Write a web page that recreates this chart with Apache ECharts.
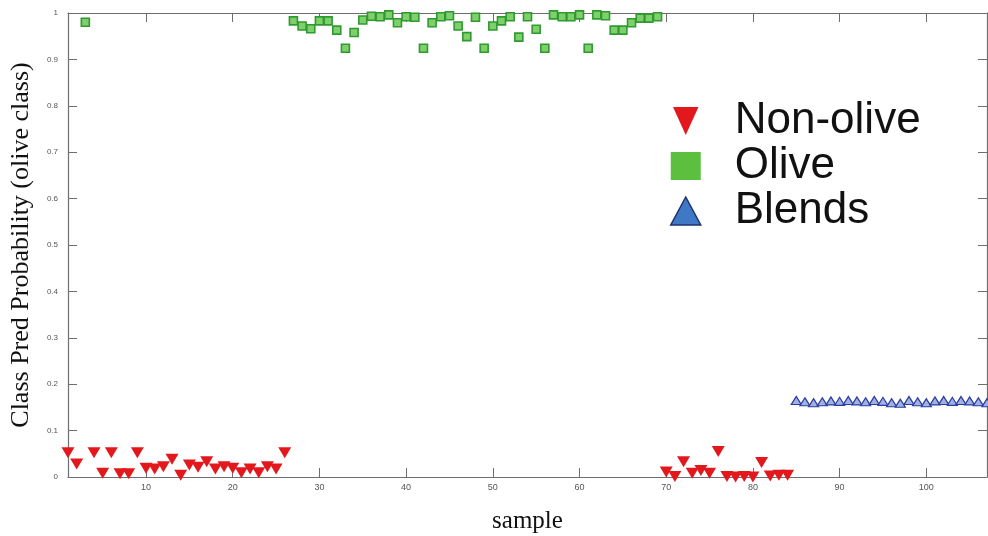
<!DOCTYPE html>
<html>
<head>
<meta charset="utf-8">
<script src="https://cdn.jsdelivr.net/npm/echarts@6/dist/echarts.min.js"></script>
<style>
  html, body { margin: 0; padding: 0; background: #fff; }
  #chart { width: 988px; height: 536px; }
</style>
</head>
<body>
<div id="chart"></div>
<script>
// Sample indices and predicted probability of the olive class
const nonOliveSamples = [1, 2, 4, 5, 6, 7, 8, 9, 10, 11, 12, 13, 14, 15, 16, 17, 18, 19, 20, 21, 22, 23, 24, 25, 26,
  70, 71, 72, 73, 74, 75, 76, 77, 78, 79, 80, 81, 82, 83, 84];
const nonOliveProb = [0.052, 0.028, 0.052, 0.008, 0.052, 0.007, 0.007, 0.052, 0.019, 0.017, 0.022, 0.038, 0.004,
  0.026, 0.021, 0.033, 0.017, 0.022, 0.019, 0.009, 0.017, 0.009, 0.022, 0.017, 0.052,
  0.011, 0.001, 0.033, 0.008, 0.014, 0.008, 0.055, 0.001, 0.0, 0.001, 0.0, 0.031, 0.002, 0.004, 0.004];

const oliveSamples = [3, 27, 28, 29, 30, 31, 32, 33, 34, 35, 36, 37, 38, 39, 40, 41, 42, 43, 44, 45, 46, 47, 48,
  49, 50, 51, 52, 53, 54, 55, 56, 57, 58, 59, 60, 61, 62, 63, 64, 65, 66, 67, 68, 69];
const oliveProb = [0.980, 0.983, 0.972, 0.966, 0.983, 0.983, 0.963, 0.924, 0.958, 0.985, 0.993, 0.992, 0.996,
  0.979, 0.992, 0.991, 0.924, 0.979, 0.992, 0.994, 0.972, 0.949, 0.991, 0.924, 0.972, 0.983, 0.992, 0.948,
  0.992, 0.965, 0.924, 0.996, 0.992, 0.992, 0.996, 0.924, 0.996, 0.994, 0.963, 0.963, 0.979, 0.989, 0.989, 0.992];

const blendSamples = [85, 86, 87, 88, 89, 90, 91, 92, 93, 94, 95, 96, 97, 98, 99, 100, 101, 102, 103, 104, 105, 106, 107];
const blendProb = [0.165, 0.162, 0.160, 0.162, 0.164, 0.163, 0.165, 0.164, 0.162, 0.165, 0.163, 0.160,
  0.159, 0.165, 0.162, 0.160, 0.164, 0.165, 0.163, 0.165, 0.164, 0.162, 0.160];

const xTickValues = [10, 20, 30, 40, 50, 60, 70, 80, 90, 100];
const yTickValues = [0, 0.1, 0.2, 0.3, 0.4, 0.5, 0.6, 0.7, 0.8, 0.9, 1];

const seriesNames = ['Non-olive', 'Olive', 'Blends'];

function pairs(xs, ys) {
  return xs.map((x, i) => [x, ys[i]]);
}

const axisGray = '#6e6e6e';
const labelGray = '#555';
const serif = 'Liberation Serif, Times New Roman, serif';
const sans = 'Liberation Sans, Arial, sans-serif';

const chart = echarts.init(document.getElementById('chart'), null, { renderer: 'canvas' });

const tickStyle = { show: true, inside: true, length: 9, lineStyle: { color: axisGray, width: 1 } };
const frameLine = { show: true, onZero: false, lineStyle: { color: axisGray, width: 1.2 } };

chart.setOption({
  animation: false,
  backgroundColor: '#ffffff',
  grid: { left: 68, right: 1, top: 13, bottom: 59, containLabel: false, outerBoundsMode: 'none' },
  legend: {
    orient: 'vertical',
    left: 665,
    top: 94,
    itemWidth: 30,
    itemHeight: 28,
    itemGap: 1,
    data: [
      { name: seriesNames[0], icon: 'path://M0,0 L20,0 L10,22 Z', itemStyle: { color: '#e3181d', borderWidth: 0 } },
      { name: seriesNames[1], icon: 'rect', itemStyle: { color: '#5cbf3e', borderWidth: 0 } },
      { name: seriesNames[2], icon: 'triangle', itemStyle: { color: '#3f78c4', borderColor: '#1d3370', borderWidth: 1.5 } }
    ],
    textStyle: { fontFamily: sans, fontSize: 44, color: '#111', padding: [0, 0, 0, 29] }
  },
  xAxis: [
    {
      type: 'value', min: 1, max: 107,
      name: 'sample', nameLocation: 'middle', nameGap: 32,
      nameTextStyle: { fontFamily: serif, fontSize: 25, color: '#111' },
      axisLine: frameLine,
      axisTick: Object.assign({ customValues: xTickValues }, tickStyle),
      axisLabel: { customValues: xTickValues, color: labelGray, fontSize: 9, margin: 6, fontFamily: sans },
      splitLine: { show: false }
    },
    {
      type: 'value', min: 1, max: 107, position: 'top',
      axisLine: frameLine,
      axisTick: Object.assign({ customValues: xTickValues }, tickStyle),
      axisLabel: { show: false },
      splitLine: { show: false }
    }
  ],
  yAxis: [
    {
      type: 'value', min: 0, max: 1, interval: 0.1,
      name: 'Class Pred Probability (olive class)', nameLocation: 'middle', nameGap: 34,
      nameTextStyle: { fontFamily: serif, fontSize: 26, color: '#111' },
      axisLine: frameLine,
      axisTick: tickStyle,
      axisLabel: {
        customValues: yTickValues,
        color: labelGray, fontSize: 8, margin: 10, fontFamily: sans,
        formatter: v => String(Math.round(v * 10) / 10)
      },
      splitLine: { show: false }
    },
    {
      type: 'value', min: 0, max: 1, interval: 0.1, position: 'right',
      axisLine: frameLine,
      axisTick: tickStyle,
      axisLabel: { show: false },
      splitLine: { show: false }
    }
  ],
  series: [
    {
      name: seriesNames[0], type: 'scatter', clip: false,
      symbol: 'triangle', symbolRotate: 180, symbolSize: [13, 11],
      itemStyle: { color: '#e3181d', opacity: 1 },
      data: pairs(nonOliveSamples, nonOliveProb),
      z: 3
    },
    {
      name: seriesNames[1], type: 'scatter', clip: false,
      symbol: 'rect', symbolSize: 8,
      itemStyle: { color: '#7fd06c', borderColor: '#2f9a2f', borderWidth: 1.6, opacity: 1 },
      data: pairs(oliveSamples, oliveProb),
      z: 3
    },
    {
      name: seriesNames[2], type: 'scatter', clip: false,
      symbol: 'triangle', symbolSize: [10, 8],
      itemStyle: { color: '#9fb2e6', borderColor: '#2d3c9c', borderWidth: 1.2, opacity: 1 },
      data: pairs(blendSamples, blendProb),
      z: 3
    }
  ]
});
</script>
</body>
</html>
